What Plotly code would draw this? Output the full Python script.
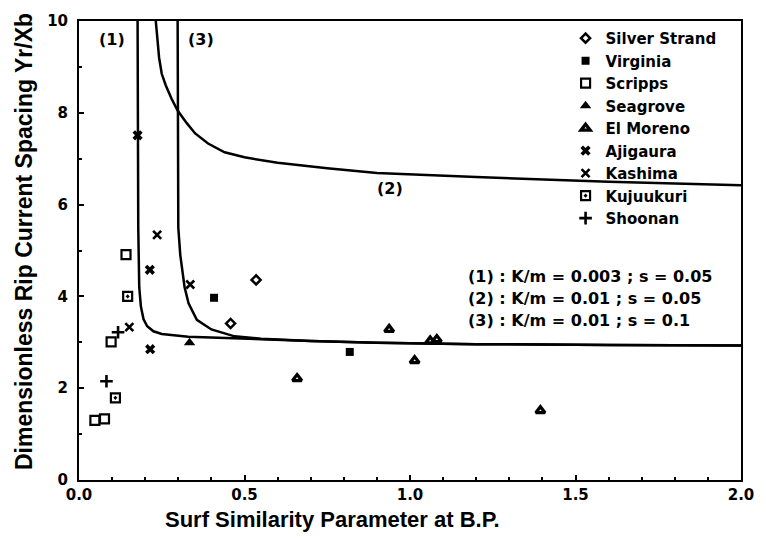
import plotly.graph_objects as go

# measured points per site (surf similarity parameter, rip spacing Yr/Xb)
silver_x = [0.535, 0.458]
silver_y = [4.36, 3.41]
virginia_x = [0.408, 0.818]
virginia_y = [3.97, 2.79]
scripps_x = [0.142, 0.097, 0.048, 0.077]
scripps_y = [4.91, 3.01, 1.30, 1.33]
seagrove_x = [0.334]
seagrove_y = [2.99]
elmoreno_x = [0.659, 0.937, 1.014, 1.061, 1.081, 1.394]
elmoreno_y = [2.21, 3.28, 2.60, 3.03, 3.06, 1.51]
ajigaura_x = [0.177, 0.214, 0.215]
ajigaura_y = [7.51, 4.58, 2.85]
kashima_x = [0.236, 0.336, 0.152]
kashima_y = [5.34, 4.26, 3.33]
kujuukuri_x = [0.147, 0.110]
kujuukuri_y = [4.00, 1.79]
shoonan_x = [0.118, 0.083]
shoonan_y = [3.22, 2.15]

# theoretical curves
curve1_x = [0.177, 0.177, 0.179, 0.182, 0.187, 0.195, 0.206, 0.225, 0.25, 0.33, 0.47, 0.7, 0.9, 1.2, 1.6, 2.0]
curve1_y = [10.0, 7.0, 5.5, 4.2, 3.78, 3.5, 3.35, 3.24, 3.18, 3.12, 3.08, 3.03, 2.99, 2.96, 2.94, 2.93]
curve2_x = [0.232, 0.236, 0.242, 0.25, 0.262, 0.28, 0.298, 0.325, 0.351, 0.39, 0.44, 0.5, 0.6, 0.75, 0.9, 1.2, 1.6, 2.0]
curve2_y = [10.0, 9.6, 9.2, 8.85, 8.6, 8.3, 8.05, 7.78, 7.55, 7.33, 7.14, 7.03, 6.91, 6.79, 6.69, 6.6, 6.5, 6.42]
curve3_x = [0.298, 0.299, 0.30, 0.30, 0.306, 0.319, 0.331, 0.356, 0.40, 0.47, 0.55, 0.7, 0.9, 1.2, 1.6, 2.0]
curve3_y = [10.0, 8.0, 6.7, 5.5, 4.9, 4.2, 3.85, 3.49, 3.28, 3.13, 3.08, 3.03, 2.99, 2.96, 2.94, 2.93]

x_ticks = [0.0, 0.5, 1.0, 1.5, 2.0]
y_ticks = [0, 2, 4, 6, 8, 10]
param_lines = ["(1) : K/m = 0.003 ; s = 0.05",
               "(2) : K/m = 0.01 ; s = 0.05",
               "(3) : K/m = 0.01 ; s = 0.1"]
param_y = [4.43, 3.95, 3.47]

BOLD = "DejaVu Sans"
TITLE = "Liberation Sans Narrow, Liberation Sans"

fig = go.Figure()

for cx, cy in [(curve1_x, curve1_y), (curve2_x, curve2_y), (curve3_x, curve3_y)]:
    fig.add_trace(go.Scatter(x=cx, y=cy, mode="lines", showlegend=False,
                             line=dict(color="black", width=2.5), hoverinfo="skip"))

sites = [
    ("Silver Strand", silver_x, silver_y, "diamond-open", 7, 2.5),
    ("Virginia", virginia_x, virginia_y, "square", 8, 0),
    ("Scripps", scripps_x, scripps_y, "square-open", 9, 2.2),
    ("Seagrove", seagrove_x, seagrove_y, "triangle-up", 10, 0),
    ("El Moreno", elmoreno_x, elmoreno_y, "triangle-up-open", 8, 3.2),
    ("Ajigaura", ajigaura_x, ajigaura_y, "x", 9, 0),
    ("Kashima", kashima_x, kashima_y, "x-thin-open", 8, 2.6),
    ("Kujuukuri", kujuukuri_x, kujuukuri_y, "square-open-dot", 9, 2.2),
    ("Shoonan", shoonan_x, shoonan_y, "cross-thin-open", 9, 2.6),
]
for name, sx, sy, sym, size, lw in sites:
    fig.add_trace(go.Scatter(
        x=sx, y=sy, mode="markers", name=name,
        marker=dict(symbol=sym, size=size, color="black",
                    line=dict(color="black", width=lw)),
    ))

# curve labels
for txt, lx, ly in [("(1)", 0.10, 9.6), ("(3)", 0.37, 9.6), ("(2)", 0.94, 6.35)]:
    fig.add_annotation(x=lx, y=ly, text=txt, showarrow=False,
                       font=dict(family=BOLD, size=16, color="black", weight="bold"))

for txt, py in zip(param_lines, param_y):
    fig.add_annotation(x=1.17, y=py, text=txt, showarrow=False, xanchor="left",
                       font=dict(family=BOLD, size=16, color="black", weight="bold"))

# axis titles
fig.add_annotation(xref="paper", yref="paper", x=0.383, y=-0.087, yanchor="middle",
                   text="Surf Similarity Parameter at B.P.", showarrow=False,
                   font=dict(family=TITLE, size=22, color="black", weight="bold"))
fig.add_annotation(xref="paper", yref="paper", x=-0.082, y=0.52, xanchor="center",
                   text="Dimensionless Rip Current Spacing Yr/Xb", textangle=-90,
                   showarrow=False,
                   font=dict(family=TITLE, size=23, color="black", weight="bold"))

axis_common = dict(showgrid=False, zeroline=False, showline=True, linecolor="black",
                   linewidth=2, mirror=True, ticks="inside", ticklen=5, tickwidth=1.5,
                   tickcolor="black",
                   tickfont=dict(family=BOLD, size=15, color="black", weight="bold"))

fig.update_xaxes(range=[0, 2], tickvals=x_ticks, tickformat=".1f",
                 minor=dict(dtick=0.1, ticks="inside", ticklen=3, tickcolor="black"),
                 **axis_common)
fig.update_yaxes(range=[0, 10], tickvals=y_ticks,
                 minor=dict(dtick=1, ticks="inside", ticklen=3, tickcolor="black"),
                 ticklabelstandoff=6, **axis_common)

fig.update_layout(
    width=766, height=538,
    margin=dict(l=79, r=16, t=12, b=58),
    plot_bgcolor="white", paper_bgcolor="white",
    legend=dict(x=0.735, y=0.998, xanchor="left", yanchor="top",
                bgcolor="rgba(0,0,0,0)", tracegroupgap=0,
                font=dict(family=BOLD, size=15, color="black", weight="bold")),
)

# drop the default page margin so the figure sits at the window's corner
fig.write_html("out.html", config=dict(displayModeBar=False),
               post_script="document.body.style.margin = '0px';")
